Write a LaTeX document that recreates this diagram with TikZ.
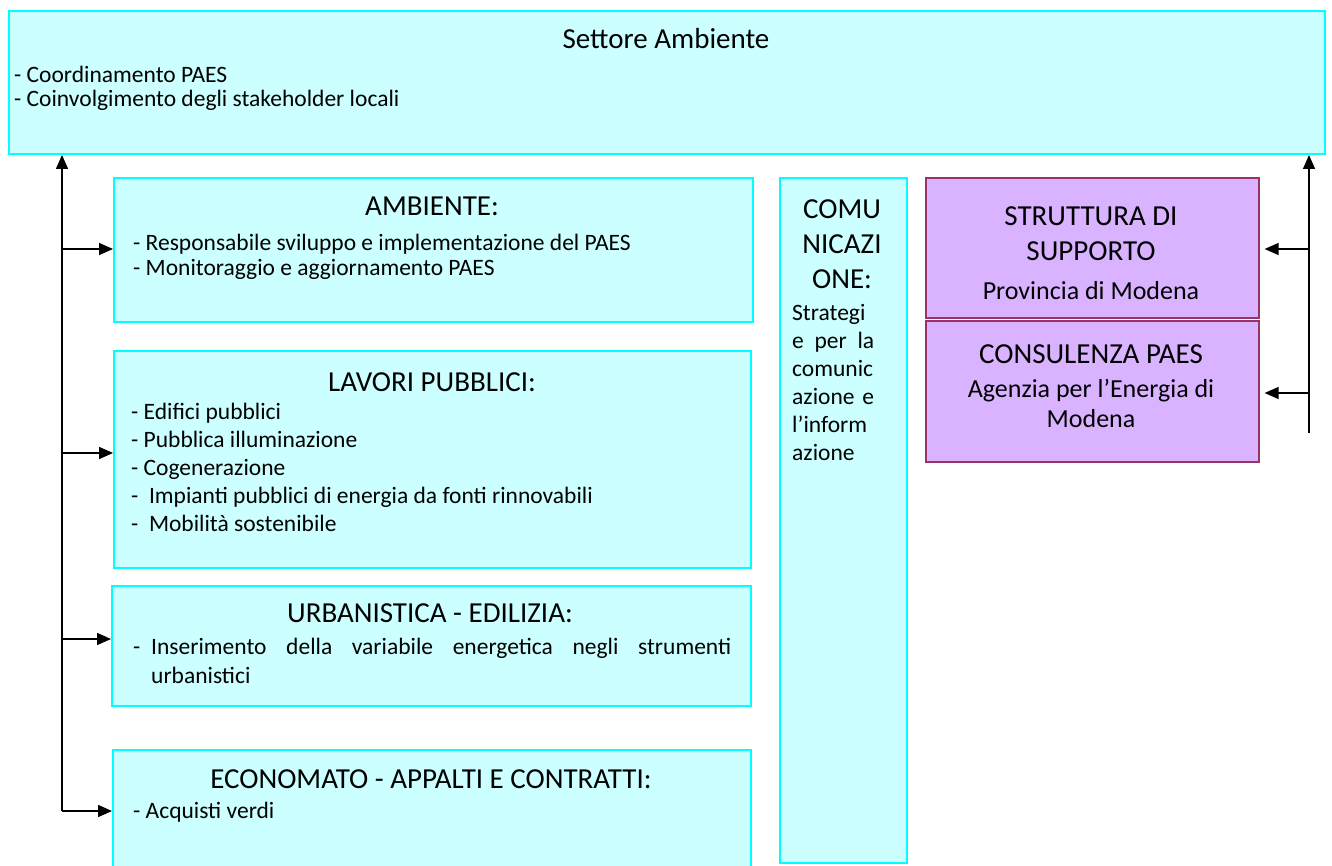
\documentclass[tikz,border=0pt]{standalone}
\usepackage{fontspec}
\setmainfont{Carlito}
\usetikzlibrary{arrows.meta,calc}
\definecolor{cyfill}{HTML}{CCFFFF}
\definecolor{cyline}{HTML}{00FFFF}
\definecolor{pufill}{HTML}{D9B3FF}
\definecolor{puline}{HTML}{993366}
\tikzset{
  cbox/.style={draw=cyline, fill=cyfill, line width=2pt, rectangle, inner sep=0pt, anchor=north west},
  pbox/.style={draw=puline, fill=pufill, line width=1.6pt, rectangle, inner sep=0pt, anchor=north west},
  ttl/.style={font=\fontsize{29}{35}\selectfont, inner sep=0pt, anchor=base},
  txt/.style={font=\fontsize{23.5}{28}\selectfont, inner sep=0pt, anchor=base west},
  ptxt/.style={font=\fontsize{26}{31}\selectfont, inner sep=0pt, anchor=base},
  arr/.style={line width=1.5pt, -{Triangle[length=14pt,width=12pt]}},
}
\begin{document}
\begin{tikzpicture}[x=1pt,y=-1pt]
\useasboundingbox (0,0) rectangle (1332,866);
\clip (0,0) rectangle (1332,866);
% boxes
\node[cbox, minimum width=1316pt, minimum height=143pt] (sett) at (8,10) {};
\node[cbox, minimum width=639pt, minimum height=144pt] (amb) at (113,177) {};
\node[cbox, minimum width=637pt, minimum height=217pt] (lav) at (113,350) {};
\node[cbox, minimum width=639pt, minimum height=120pt] (urb) at (111,585) {};
\node[cbox, minimum width=638pt, minimum height=140pt] (eco) at (112,749) {};
\node[cbox, minimum width=127pt, minimum height=685pt] (com) at (779,177) {};
\node[pbox, minimum width=333pt, minimum height=140pt] (str) at (925,177) {};
\node[pbox, minimum width=333pt, minimum height=141pt] (con) at (925,320) {};
% Settore
\node[ttl] (t0) at (666,49) {Settore Ambiente};
\node[txt] (t0a) at (14,83) {- Coordinamento PAES};
\node[txt] (t0b) at (14,107) {- Coinvolgimento degli stakeholder locali};
% Ambiente
\node[ttl] (t1) at (432,216) {AMBIENTE:};
\node[txt] (t1a) at (133,251) {- Responsabile sviluppo e implementazione del PAES};
\node[txt] (t1b) at (133,276) {- Monitoraggio e aggiornamento PAES};
% Lavori
\node[ttl] (t2) at (432,391) {LAVORI PUBBLICI:};
\node[txt] (t2a) at (131,419) {- Edifici pubblici};
\node[txt] (t2b) at (131,447) {- Pubblica illuminazione};
\node[txt] (t2c) at (131,475) {- Cogenerazione};
\node[txt] (t2d) at (131,503) {-\ \ Impianti pubblici di energia da fonti rinnovabili};
\node[txt] (t2e) at (131,531) {-\ \ Mobilità sostenibile};
% Urbanistica
\node[ttl] (t3) at (430,622) {URBANISTICA - EDILIZIA:};
\node[txt] (t3d) at (133,654) {-};
\node[txt] (t3a) at (151,654) {\makebox[580pt][s]{Inserimento della variabile energetica negli strumenti}};
\node[txt] (t3b) at (151,683) {urbanistici};
% Economato
\node[ttl] (t4) at (431,788) {ECONOMATO - APPALTI E CONTRATTI:};
\node[txt] (t4a) at (133,818) {- Acquisti verdi};
% Comunicazione
\node[ttl] (t5a) at (842,219) {COMU};
\node[ttl] (t5b) at (842,254) {NICAZI};
\node[ttl] (t5c) at (842,289) {ONE:};
\node[txt] (t5d) at (792,320) {Strategi};
\node[txt] (t5e) at (792,348) {\makebox[82pt][s]{e per la}};
\node[txt] (t5f) at (792,376) {comunic};
\node[txt] (t5g) at (792,404) {\makebox[82pt][s]{azione e}};
\node[txt] (t5h) at (792,432) {l’inform};
\node[txt] (t5i) at (792,460) {azione};
% Struttura / Consulenza
\node[ttl] (t6a) at (1091,226) {STRUTTURA DI};
\node[ttl] (t6b) at (1091,261) {SUPPORTO};
\node[ptxt] (t6c) at (1091,300) {Provincia di Modena};
\node[ttl] (t7a) at (1091,363) {CONSULENZA PAES};
\node[ptxt] (t7b) at (1091,397) {Agenzia per l’Energia di};
\node[ptxt] (t7c) at (1091,427) {Modena};
% left connectors
\coordinate (lv) at (62,811);
\coordinate (l1) at (62,249);
\coordinate (l2) at (62,453);
\coordinate (l3) at (62,639);
\draw[line width=1.5pt] (lv) -- (lv |- amb.north);
\draw[arr] (lv |- amb.north) -- (lv |- sett.south);
\draw[arr] (l1) -- (l1 -| amb.west);
\draw[arr] (l2) -- (l2 -| lav.west);
\draw[arr] (l3) -- (l3 -| urb.west);
\draw[arr] (lv) -- (lv -| eco.west);
% right connectors
\coordinate (rv) at (1309,433);
\coordinate (r1) at (1309,249);
\coordinate (r2) at (1309,393);
\draw[line width=1.5pt] (rv) -- (rv |- str.north);
\draw[arr] (rv |- str.north) -- (rv |- sett.south);
\draw[arr] (r1) -- ([xshift=5pt]r1 -| str.east);
\draw[arr] (r2) -- ([xshift=5pt]r2 -| con.east);
\end{tikzpicture}
\end{document}
